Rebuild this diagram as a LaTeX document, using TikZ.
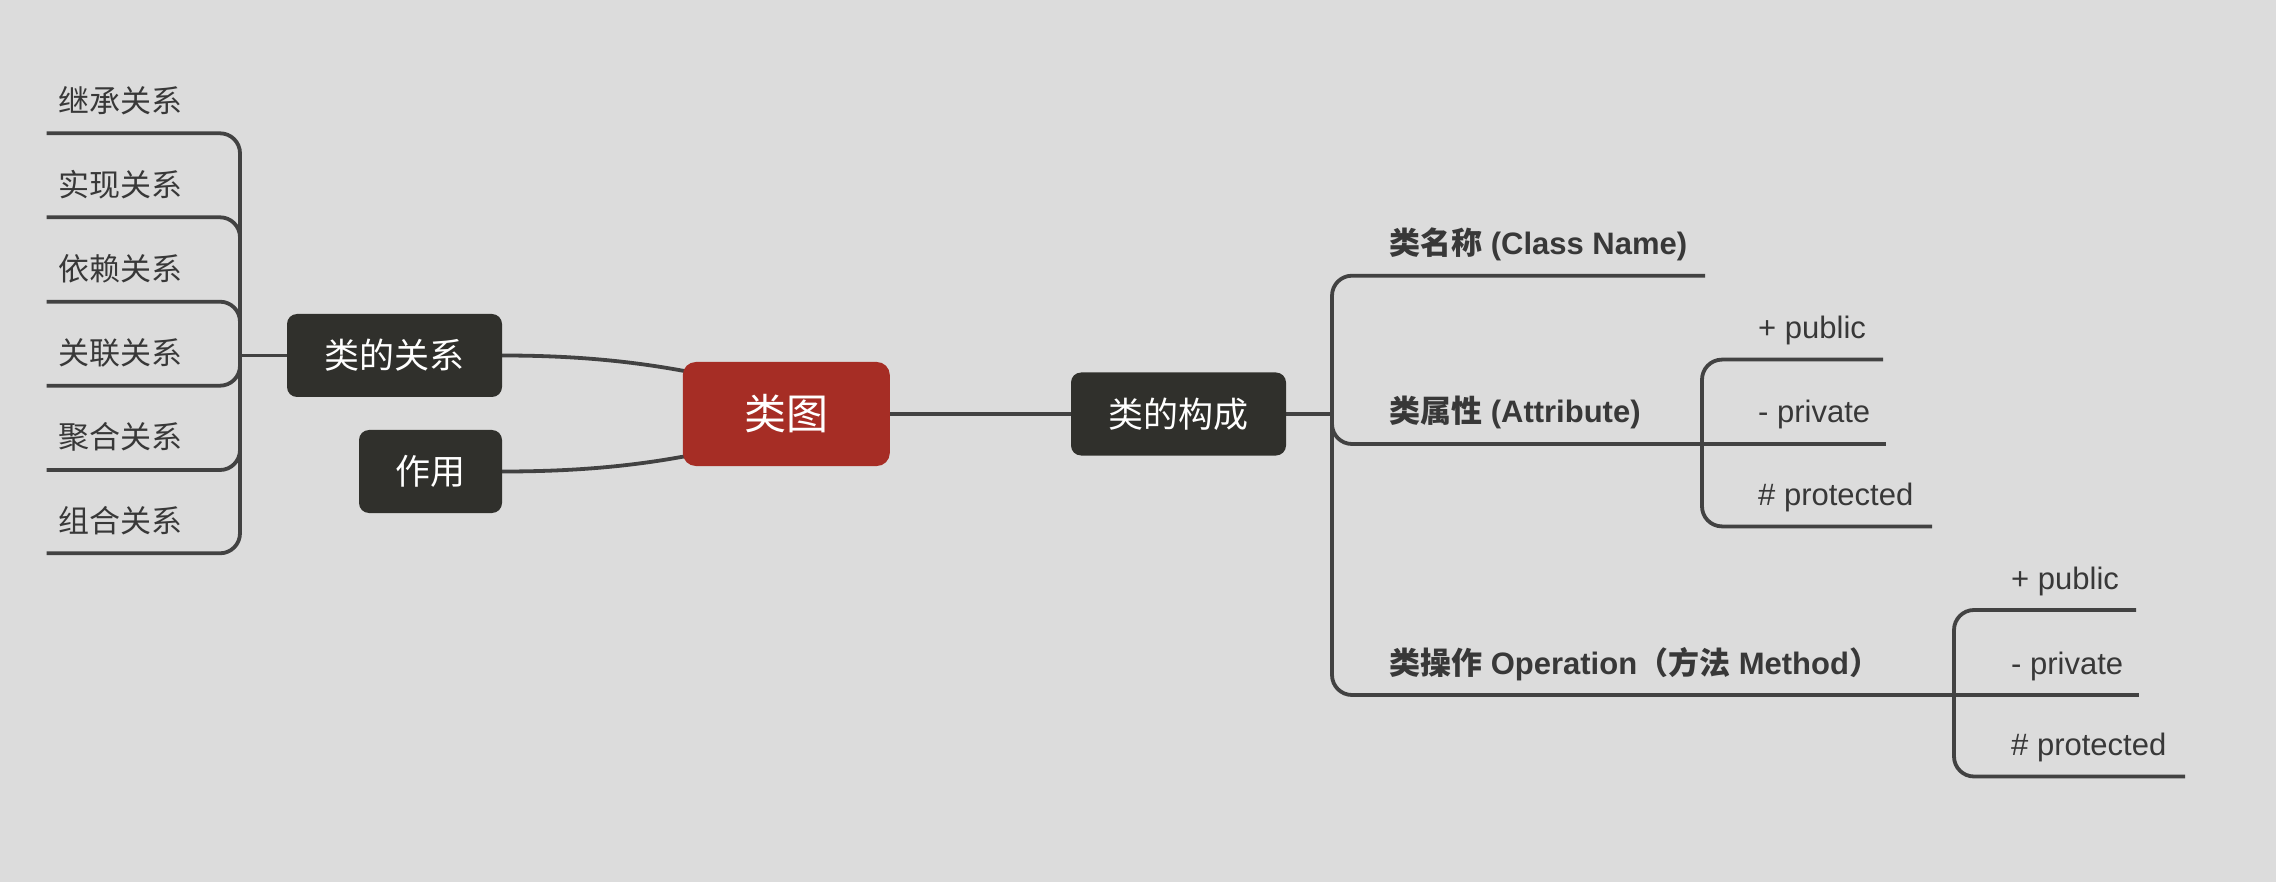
\documentclass[tikz,border=0pt]{standalone}
\usepackage{fontspec}
\setmainfont{Liberation Sans}
\newfontfamily\cjk{Noto Sans CJK SC}
\pgfdeclarelayer{back}
\pgfdeclarelayer{edges}
\pgfsetlayers{back,edges,main}
\definecolor{bgc}{RGB}{220,220,220}
\definecolor{linec}{RGB}{66,66,66}
\definecolor{boxc}{RGB}{48,48,44}
\definecolor{redc}{RGB}{166,45,37}
\definecolor{txtc}{RGB}{56,56,56}
\begin{document}
\begin{tikzpicture}[x=1pt,y=-1pt,
  conn/.style={draw=linec, line width=3.8pt, rounded corners=20pt},
  leaf/.style={anchor=base west, inner sep=0pt, text=txtc, font=\fontsize{31}{36}\selectfont},
  leafb/.style={leaf, font=\fontsize{31}{36}\selectfont\bfseries},
  topic/.style={fill=boxc, rounded corners=10pt, text=white, minimum width=#1, minimum height=83pt, inner sep=0pt, font=\cjk\fontsize{35}{40}\selectfont},
  rootbox/.style={fill=redc, rounded corners=13pt, text=white, minimum width=207pt, minimum height=104pt, inner sep=0pt, font=\cjk\fontsize{42}{48}\selectfont}]
\useasboundingbox (0,0) rectangle (2276,882);
\begin{pgfonlayer}{back}
\fill[bgc] (0,0) rectangle (2276,882);
\end{pgfonlayer}

% main topics
\node[topic=215pt] (rel) at (394.5,355.5) {类的关系};
\node[topic=143pt] (use) at (430.5,471.5) {作用};
\node[rootbox] (root) at (786.3,414) {类图};
\node[topic=215pt] (comp) at (1178.5,414) {类的构成};

% left leaves
\node[leaf] (l1) at (58.3,112.3) {\cjk 继承关系};
\node[leaf] (l2) at (58.3,196.3) {\cjk 实现关系};
\node[leaf] (l3) at (58.3,280.7) {\cjk 依赖关系};
\node[leaf] (l4) at (58.3,364.7) {\cjk 关联关系};
\node[leaf] (l5) at (58.3,449.0) {\cjk 聚合关系};
\node[leaf] (l6) at (58.3,532.3) {\cjk 组合关系};

% right leaves
\node[leafb] (n1) at (1389,254.7) {{\cjk 类名称} (Class Name)};
\node[leafb] (n2) at (1389,423) {{\cjk 类属性} (Attribute)};
\node[leafb] (n3) at (1389,674) {{\cjk 类操作} Operation{\cjk （方法} Method{\cjk ）}};
\node[leaf] (a1) at (1758,338.6) {+ public};
\node[leaf] (a2) at (1758,423) {- private};
\node[leaf] (a3) at (1758,505.4) {\# protected};
\node[leaf] (o1) at (2011,589) {+ public};
\node[leaf] (o2) at (2011,674) {- private};
\node[leaf] (o3) at (2011,755.5) {\# protected};

% junctions and line ends
\coordinate (lj) at (240,355.5);
\coordinate (le1) at (46.7,133.3);
\coordinate (le2) at (46.7,217.3);
\coordinate (le3) at (46.7,301.7);
\coordinate (le4) at (46.7,385.7);
\coordinate (le5) at (46.7,470.0);
\coordinate (le6) at (46.7,553.3);
\coordinate (c1) at (700,374);
\coordinate (c2) at (700,453.4);
\coordinate (rj) at (1332,414);
\coordinate (ne1) at (1705,275.7);
\coordinate (aj) at (1702,444);
\coordinate (oj) at (1954,695);
\coordinate (ae1) at (1883,359.6);
\coordinate (ae2) at (1886,444);
\coordinate (ae3) at (1932,526.4);
\coordinate (oe1) at (2136,610);
\coordinate (oe2) at (2139,695);
\coordinate (oe3) at (2185,776.5);

\begin{pgfonlayer}{edges}
\draw[conn] (rel.west) -- (lj);
\foreach \e in {le1,le2,le3,le4,le5,le6} \draw[conn] (lj) |- (\e);
\draw[conn, rounded corners=0pt] (rel.east) .. controls (580,355.5) and (640,362) .. (c1);
\draw[conn, rounded corners=0pt] (use.east) .. controls (580,471.5) and (640,465.5) .. (c2);
\draw[conn] (root.east) -- (comp.west);
\draw[conn] (comp.east) -- (rj);
\draw[conn] (rj) |- (ne1);
\draw[conn] (rj) |- (aj);
\draw[conn] (rj) |- (oj);
\draw[conn] (aj) |- (ae1);
\draw[conn] (aj) -- (ae2);
\draw[conn] (aj) |- (ae3);
\draw[conn] (oj) |- (oe1);
\draw[conn] (oj) -- (oe2);
\draw[conn] (oj) |- (oe3);
\end{pgfonlayer}
\end{tikzpicture}
\end{document}
